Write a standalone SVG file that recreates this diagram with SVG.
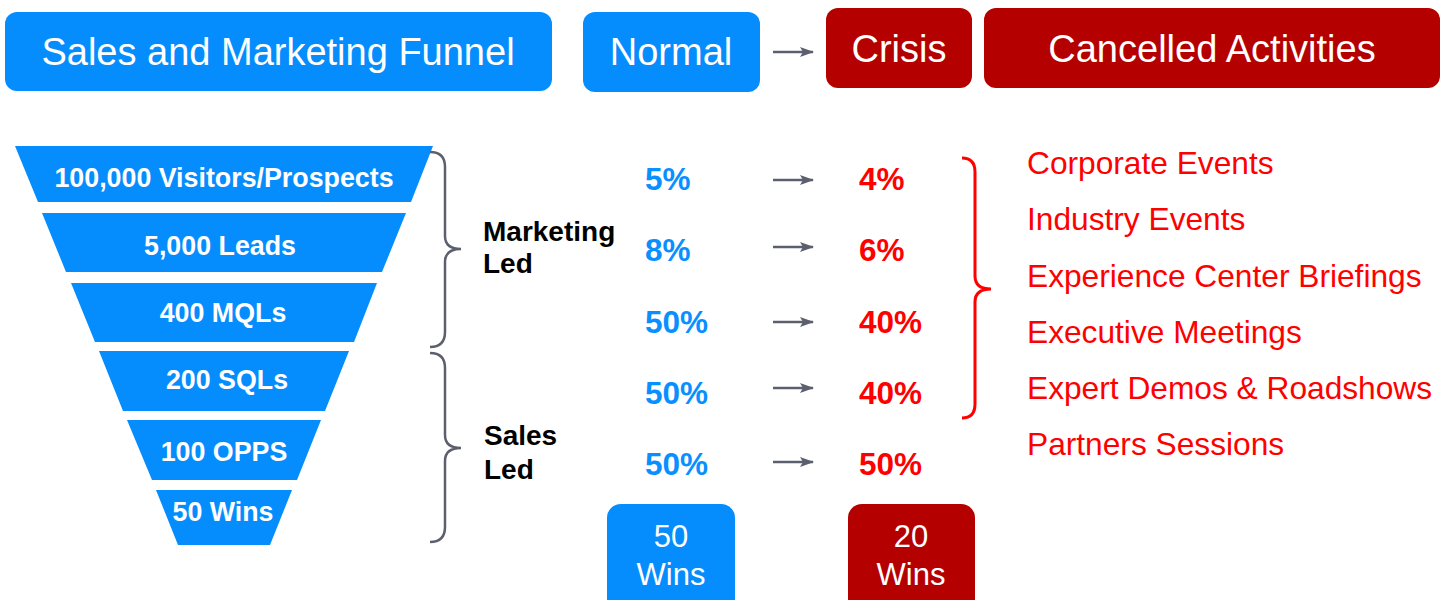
<svg xmlns="http://www.w3.org/2000/svg" width="1451" height="600" viewBox="0 0 1451 600">
<defs>
<style>
.blue{fill:#058dfd}
.red{fill:#b50000}
.hdr{font-family:"Liberation Sans",Arial,sans-serif;font-size:38px;fill:#fff;text-anchor:middle}
.fn{font-family:"Liberation Sans",Arial,sans-serif;font-size:26.8px;font-weight:bold;fill:#fff;text-anchor:middle}
.lbl{font-family:"Liberation Sans",Arial,sans-serif;font-size:28px;font-weight:bold;fill:#000}
.pb{font-family:"Liberation Sans",Arial,sans-serif;font-size:31.5px;font-weight:bold;fill:#0a8fff}
.pr{font-family:"Liberation Sans",Arial,sans-serif;font-size:31.5px;font-weight:bold;fill:#ff0000}
.act{font-family:"Liberation Sans",Arial,sans-serif;font-size:31.7px;fill:#ff0000}
.win{font-family:"Liberation Sans",Arial,sans-serif;font-size:31px;fill:#fff;text-anchor:middle}
.arr{stroke:#5b5f6e;stroke-width:2.5;fill:none;marker-end:url(#ah)}
.brace{stroke:#5b5f6e;stroke-width:2.5;fill:none}
.rbrace{stroke:#ff0000;stroke-width:3;fill:none}
</style>
<marker id="ah" viewBox="0 0 14 10" refX="13" refY="5" markerWidth="14" markerHeight="10" markerUnits="userSpaceOnUse" orient="auto">
<path d="M0,0 L14,5 L0,10 L3,5 Z" fill="#5b5f6e"/>
</marker>
</defs>

<g id="header-funnel"><rect class="blue" x="5" y="12" width="547" height="79" rx="12"/><text class="hdr" x="278" y="65">Sales and Marketing Funnel</text></g>
<g id="header-normal"><rect class="blue" x="583" y="12" width="177" height="80" rx="12"/><text class="hdr" x="671" y="65">Normal</text></g>
<g id="header-crisis"><rect class="red" x="826" y="8" width="146" height="80" rx="12"/><text class="hdr" x="899" y="62">Crisis</text></g>
<g id="header-cancelled"><rect class="red" x="984" y="8" width="456" height="80" rx="12"/><text class="hdr" x="1212" y="62">Cancelled Activities</text></g>

<g id="funnel">
<g id="f1"><polygon class="blue" points="15,146 433,146 411,202 38,202"/><text class="fn" x="224" y="187">100,000 Visitors/Prospects</text></g>
<g id="f2"><polygon class="blue" points="42,213 406,213 382,272 66,272"/><text class="fn" x="220" y="255">5,000 Leads</text></g>
<g id="f3"><polygon class="blue" points="71,283 377,283 354,342 95,342"/><text class="fn" x="223" y="322">400 MQLs</text></g>
<g id="f4"><polygon class="blue" points="99,351 349,351 325,411 123,411"/><text class="fn" x="227" y="389">200 SQLs</text></g>
<g id="f5"><polygon class="blue" points="127,420 321,420 297,480 152,480"/><text class="fn" x="224" y="461">100 OPPS</text></g>
<g id="f6"><polygon class="blue" points="156,490 292,490 270,545 178,545"/><text class="fn" x="223" y="521">50 Wins</text></g>
</g>

<g id="braces">
<path class="brace" d="M430,152 Q445,152 445,167 L445,236 Q445,249 461,249 Q445,249 445,262 L445,332 Q445,347 430,347"/>
<path class="brace" d="M430,353 Q445,353 445,368 L445,435 Q445,448 461,448 Q445,448 445,461 L445,527 Q445,542 430,542"/>
<path class="rbrace" d="M962,158 Q975,158 975,172 L975,276 Q975,289 991,289 Q975,289 975,302 L975,404 Q975,418 962,418"/>
</g>

<g id="labels">
<text class="lbl" x="483" y="241">Marketing</text>
<text class="lbl" x="483" y="273">Led</text>
<text class="lbl" x="484" y="445">Sales</text>
<text class="lbl" x="484" y="479">Led</text>
</g>

<g id="connectors">
<line class="arr" x1="773" y1="52" x2="813" y2="52"/>
<line class="arr" x1="773" y1="180" x2="813" y2="180"/>
<line class="arr" x1="773" y1="247" x2="813" y2="247"/>
<line class="arr" x1="773" y1="322" x2="813" y2="322"/>
<line class="arr" x1="773" y1="388" x2="813" y2="388"/>
<line class="arr" x1="773" y1="462" x2="813" y2="462"/>
</g>

<g id="normal-rates">
<text class="pb" x="645" y="190">5%</text>
<text class="pb" x="645" y="261">8%</text>
<text class="pb" x="645" y="333">50%</text>
<text class="pb" x="645" y="404">50%</text>
<text class="pb" x="645" y="475">50%</text>
</g>
<g id="crisis-rates">
<text class="pr" x="859" y="190">4%</text>
<text class="pr" x="859" y="261">6%</text>
<text class="pr" x="859" y="333">40%</text>
<text class="pr" x="859" y="404">40%</text>
<text class="pr" x="859" y="475">50%</text>
</g>

<g id="activities">
<text class="act" x="1027" y="174">Corporate Events</text>
<text class="act" x="1027" y="230">Industry Events</text>
<text class="act" x="1027" y="287">Experience Center Briefings</text>
<text class="act" x="1027" y="343">Executive Meetings</text>
<text class="act" x="1027" y="399">Expert Demos &amp; Roadshows</text>
<text class="act" x="1027" y="455">Partners Sessions</text>
</g>

<g id="wins-normal"><rect class="blue" x="607" y="504" width="128" height="110" rx="14"/><text class="win" x="671" y="547">50</text><text class="win" x="671" y="585">Wins</text></g>
<g id="wins-crisis"><rect class="red" x="848" y="504" width="127" height="110" rx="14"/><text class="win" x="911" y="547">20</text><text class="win" x="911" y="585">Wins</text></g>
</svg>
